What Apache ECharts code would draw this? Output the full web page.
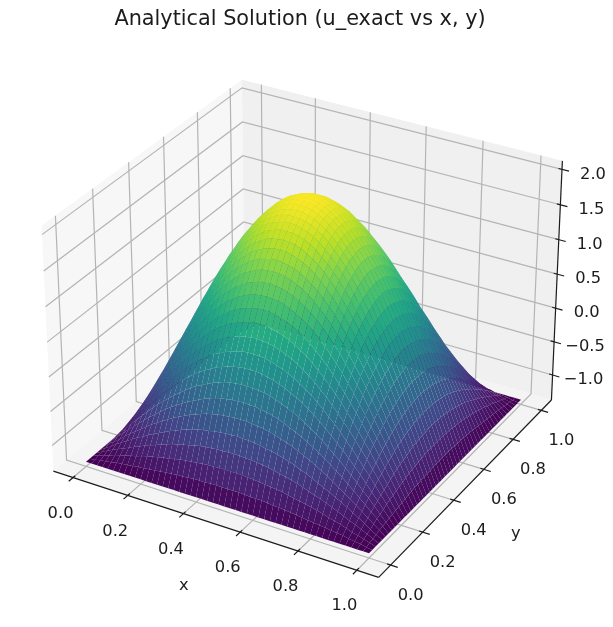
<!DOCTYPE html>
<html><head><meta charset="utf-8">
<style>html,body{margin:0;padding:0;background:#fff}#c{width:613px;height:627px;filter:blur(0.4px)}</style>
<script src="https://cdn.jsdelivr.net/npm/echarts@6/dist/echarts.min.js"></script>
</head><body><div id="c"></div>
<script>
const titleText = 'Analytical Solution (u_exact vs x, y)';
const xTicks = [0, 0.2, 0.4, 0.6, 0.8, 1.0];
const yTicks = [0, 0.2, 0.4, 0.6, 0.8, 1.0];
const zTicks = [-1, -0.5, 0, 0.5, 1, 1.5, 2];
const xBox = [-0.0729, 1.0729];
const yBox = [-0.0729, 1.0729];
const zBox = [-1.38, 2.12];
// surface heights: one quadrant (x, y from 0 to 0.5), the hump is mirror-symmetric
const zQuadrant = [
[-1.31,-1.31,-1.31,-1.31,-1.31,-1.31,-1.31,-1.31,-1.31,-1.31,-1.31,-1.31,-1.31,-1.31,-1.31,-1.31,-1.31,-1.31,-1.31,-1.31,-1.31,-1.31,-1.31,-1.31,-1.31,-1.31],
[-1.31,-1.30,-1.28,-1.27,-1.26,-1.24,-1.23,-1.22,-1.21,-1.20,-1.19,-1.18,-1.17,-1.16,-1.15,-1.14,-1.13,-1.13,-1.12,-1.11,-1.11,-1.11,-1.10,-1.10,-1.10,-1.10],
[-1.31,-1.28,-1.26,-1.23,-1.21,-1.18,-1.15,-1.13,-1.11,-1.08,-1.06,-1.04,-1.02,-1.00,-.99,-.97,-.95,-.94,-.93,-.92,-.91,-.90,-.90,-.89,-.89,-.89],
[-1.31,-1.27,-1.23,-1.19,-1.15,-1.12,-1.08,-1.04,-1.01,-.97,-.94,-.91,-.88,-.85,-.82,-.80,-.78,-.76,-.74,-.72,-.71,-.70,-.69,-.69,-.68,-.68],
[-1.31,-1.26,-1.21,-1.15,-1.10,-1.05,-1.00,-.95,-.91,-.86,-.82,-.78,-.74,-.70,-.67,-.63,-.60,-.58,-.55,-.53,-.52,-.50,-.49,-.48,-.48,-.47],
[-1.31,-1.24,-1.18,-1.12,-1.05,-.99,-.93,-.87,-.81,-.75,-.70,-.65,-.60,-.55,-.51,-.47,-.43,-.40,-.37,-.34,-.32,-.30,-.29,-.28,-.27,-.27],
[-1.31,-1.23,-1.15,-1.08,-1.00,-.93,-.85,-.78,-.71,-.65,-.58,-.52,-.46,-.41,-.36,-.31,-.27,-.23,-.19,-.16,-.13,-.11,-.10,-.08,-.08,-.07],
[-1.31,-1.22,-1.13,-1.04,-.95,-.87,-.78,-.70,-.62,-.54,-.47,-.40,-.33,-.27,-.21,-.15,-.10,-.06,-.02,.02,.05,.08,.10,.11,.12,.12],
[-1.31,-1.21,-1.11,-1.01,-.91,-.81,-.71,-.62,-.53,-.44,-.36,-.28,-.20,-.13,-.06,0,.06,.11,.15,.20,.23,.26,.28,.30,.31,.31],
[-1.31,-1.20,-1.08,-.97,-.86,-.75,-.65,-.54,-.44,-.35,-.25,-.16,-.08,0,.08,.15,.21,.27,.32,.36,.40,.43,.46,.48,.49,.49],
[-1.31,-1.19,-1.06,-.94,-.82,-.70,-.58,-.47,-.36,-.25,-.15,-.05,.04,.13,.21,.29,.36,.42,.48,.53,.57,.60,.63,.65,.66,.67],
[-1.31,-1.18,-1.04,-.91,-.78,-.65,-.52,-.40,-.28,-.16,-.05,.06,.16,.25,.34,.42,.50,.57,.63,.68,.73,.76,.79,.81,.83,.83],
[-1.31,-1.17,-1.02,-.88,-.74,-.60,-.46,-.33,-.20,-.08,.04,.16,.26,.37,.46,.55,.63,.71,.77,.83,.88,.92,.95,.97,.99,.99],
[-1.31,-1.16,-1.00,-.85,-.70,-.55,-.41,-.27,-.13,0,.13,.25,.37,.48,.58,.67,.76,.84,.91,.97,1.02,1.06,1.10,1.12,1.13,1.14],
[-1.31,-1.15,-.99,-.82,-.67,-.51,-.36,-.21,-.06,.08,.21,.34,.46,.58,.68,.78,.88,.96,1.03,1.10,1.15,1.20,1.23,1.26,1.27,1.28],
[-1.31,-1.14,-.97,-.80,-.63,-.47,-.31,-.15,0,.15,.29,.42,.55,.67,.78,.89,.99,1.07,1.15,1.22,1.28,1.32,1.36,1.39,1.40,1.41],
[-1.31,-1.13,-.95,-.78,-.60,-.43,-.27,-.10,.06,.21,.36,.50,.63,.76,.88,.99,1.09,1.18,1.26,1.33,1.39,1.44,1.48,1.50,1.52,1.53],
[-1.31,-1.13,-.94,-.76,-.58,-.40,-.23,-.06,.11,.27,.42,.57,.71,.84,.96,1.07,1.18,1.27,1.35,1.43,1.49,1.54,1.58,1.61,1.63,1.63],
[-1.31,-1.12,-.93,-.74,-.55,-.37,-.19,-.02,.15,.32,.48,.63,.77,.91,1.03,1.15,1.26,1.35,1.44,1.52,1.58,1.63,1.68,1.71,1.72,1.73],
[-1.31,-1.11,-.92,-.72,-.53,-.34,-.16,.02,.20,.36,.53,.68,.83,.97,1.10,1.22,1.33,1.43,1.52,1.59,1.66,1.72,1.76,1.79,1.81,1.81],
[-1.31,-1.11,-.91,-.71,-.52,-.32,-.13,.05,.23,.40,.57,.73,.88,1.02,1.15,1.28,1.39,1.49,1.58,1.66,1.73,1.79,1.83,1.86,1.88,1.89],
[-1.31,-1.11,-.90,-.70,-.50,-.30,-.11,.08,.26,.43,.60,.76,.92,1.06,1.20,1.32,1.44,1.54,1.63,1.72,1.79,1.84,1.89,1.92,1.94,1.94],
[-1.31,-1.10,-.90,-.69,-.49,-.29,-.10,.10,.28,.46,.63,.79,.95,1.10,1.23,1.36,1.48,1.58,1.68,1.76,1.83,1.89,1.93,1.96,1.98,1.99],
[-1.31,-1.10,-.89,-.69,-.48,-.28,-.08,.11,.30,.48,.65,.81,.97,1.12,1.26,1.39,1.50,1.61,1.71,1.79,1.86,1.92,1.96,2.00,2.02,2.02],
[-1.31,-1.10,-.89,-.68,-.48,-.27,-.08,.12,.31,.49,.66,.83,.99,1.13,1.27,1.40,1.52,1.63,1.72,1.81,1.88,1.94,1.98,2.02,2.04,2.04],
[-1.31,-1.10,-.89,-.68,-.47,-.27,-.07,.12,.31,.49,.67,.83,.99,1.14,1.28,1.41,1.53,1.63,1.73,1.81,1.89,1.94,1.99,2.02,2.04,2.05]
];
const viridis = ['#440154','#482475','#414487','#355f8d','#2a788e','#21918c','#22a884','#44bf70','#7ad151','#bddf26','#fde725'];

const PX = 3130, CX = 307, CY = 316.5, W = 613, H = 627;
const INK = '#1c1c1c', GRID = '#b4b4b4', FONT = 'DejaVu Sans';

// matplotlib-style camera (elev 30, azim -60, dist 10, box aspect 4:4:3)
const B = [1.1905, 1.1905, 0.8929];
const U = [0.8660, 0.5, 0], V = [-0.25, 0.4330, 0.8660], Wv = [0.4330, -0.75, 0.5], DIST = 10;
function rel(p) {
  const n = [(p[0]-xBox[0])/(xBox[1]-xBox[0]), (p[1]-yBox[0])/(yBox[1]-yBox[0]), (p[2]-zBox[0])/(zBox[1]-zBox[0])];
  return [(n[0]-.5)*B[0], (n[1]-.5)*B[1], (n[2]-.5)*B[2]];
}
const dot = (a,b) => a[0]*b[0]+a[1]*b[1]+a[2]*b[2];
function depth(p){ return DIST - dot(rel(p), Wv); }
function proj(p){ const d = rel(p), k = DIST - dot(d, Wv); return [dot(d,U)/k, dot(d,V)/k]; }

const nq = zQuadrant.length, cells = 2*(nq-1);
const zAt = (i,j) => zQuadrant[i<=cells/2?i:cells-i][j<=cells/2?j:cells-j];
const P = (i,j) => [i/cells, j/cells, zAt(i,j)];
const zMin = -1.31, zMax = 2.05;
const quads = [];
for (let i=0;i<cells;i++) for (let j=0;j<cells;j++) {
  const c = [P(i,j),P(i+1,j),P(i+1,j+1),P(i,j+1)];
  const mz = (c[0][2]+c[1][2]+c[2][2]+c[3][2])/4;
  const md = (depth(c[0])+depth(c[1])+depth(c[2])+depth(c[3]))/4;
  quads.push({c, mz, md});
}
quads.sort((a,b)=>b.md-a.md);
function cmap(z){ return echarts.color.lerp(Math.max(0,Math.min(1,(z-zMin)/(zMax-zMin))), viridis); }

const [x0,x1] = xBox, [y0,y1] = yBox, [z0,z1] = zBox;
const panes = [
  {fill:'#f7f7f7', c:[[x0,y0,z0],[x0,y1,z0],[x0,y1,z1],[x0,y0,z1]]},
  {fill:'#f0f0f0', c:[[x0,y1,z0],[x1,y1,z0],[x1,y1,z1],[x0,y1,z1]]},
  {fill:'#f4f4f4', c:[[x0,y0,z0],[x1,y0,z0],[x1,y1,z0],[x0,y1,z0]]}
];
const lines = [];
xTicks.forEach(t=>lines.push({c:[[t,y0,z0],[t,y1,z0],[t,y1,z1]],col:GRID}));
yTicks.forEach(t=>lines.push({c:[[x1,t,z0],[x0,t,z0],[x0,t,z1]],col:GRID}));
zTicks.forEach(t=>lines.push({c:[[x0,y0,t],[x0,y1,t],[x1,y1,t]],col:GRID}));
const OUT = 0.024, IN = 0.012;
lines.push({c:[[x0,y0,z0],[x1,y0,z0]],col:INK},{c:[[x1,y0,z0],[x1,y1,z0]],col:INK},{c:[[x1,y1,z0],[x1,y1,z1]],col:INK});
xTicks.forEach(t=>lines.push({c:[[t,y0-OUT,z0],[t,y0+IN,z0]],col:INK}));
yTicks.forEach(t=>lines.push({c:[[x1+OUT,t,z0],[x1-IN,t,z0]],col:INK}));
zTicks.forEach(t=>lines.push({c:[[x1+OUT,y1,t],[x1-IN,y1,t]],col:INK}));

const fmt = v => v.toFixed(1).replace('-','\u2212');
const labels = [];
xTicks.forEach(t=>labels.push({p:[t,y0,z0],dx:-12.5,dy:36,s:fmt(t)}));
yTicks.forEach(t=>labels.push({p:[x1,t,z0],dx:20,dy:30.5,s:fmt(t)}));
zTicks.forEach(t=>labels.push({p:[x1,y1,t],dx:31,dy:5,s:fmt(t)}));
labels.push({p:[0.5,y0,z0],dx:-28,dy:63,s:'x'});
labels.push({p:[x1,0.5,z0],dx:47,dy:49,s:'y'});

const idx = a => a.map((_,i)=>i);
const base = {type:'custom', coordinateSystem:'cartesian2d', silent:true, animation:false, clip:false, progressive:0};
const pts = (c,api)=>c.map(p=>api.coord(proj(p)));
const chart = echarts.init(document.getElementById('c'), null, {renderer:'canvas'});
chart.setOption({
  animation:false,
  backgroundColor:'#fff',
  title:{text:titleText,left:295,textAlign:'center',top:4,textStyle:{fontFamily:FONT,fontWeight:'normal',fontSize:20.8,color:INK}},
  tooltip:{show:false},
  grid:{left:0,right:0,top:0,bottom:0},
  xAxis:{type:'value',show:false,min:-CX/PX,max:(W-CX)/PX},
  yAxis:{type:'value',show:false,min:-(H-CY)/PX,max:CY/PX},
  series:[
    {...base,z:1,data:idx(panes),renderItem:(p,api)=>({type:'polygon',shape:{points:pts(panes[p.dataIndex].c,api)},style:{fill:panes[p.dataIndex].fill}})},
    {...base,z:2,data:idx(lines),renderItem:(p,api)=>({type:'polyline',shape:{points:pts(lines[p.dataIndex].c,api)},style:{fill:'none',stroke:lines[p.dataIndex].col,lineWidth:1.2}})},
    {...base,z:3,data:idx(quads),renderItem:(p,api)=>{const q=quads[p.dataIndex];return {type:'polygon',shape:{points:pts(q.c,api)},style:{fill:cmap(q.mz)}};}},
    {...base,z:4,data:idx(labels),renderItem:(p,api)=>{const l=labels[p.dataIndex],a=api.coord(proj(l.p));return {type:'text',x:a[0]+l.dx,y:a[1]+l.dy,style:{text:l.s,fontFamily:FONT,fontSize:16.3,fill:INK,align:'center',verticalAlign:'middle'}};}}
  ]
});
</script></body></html>
